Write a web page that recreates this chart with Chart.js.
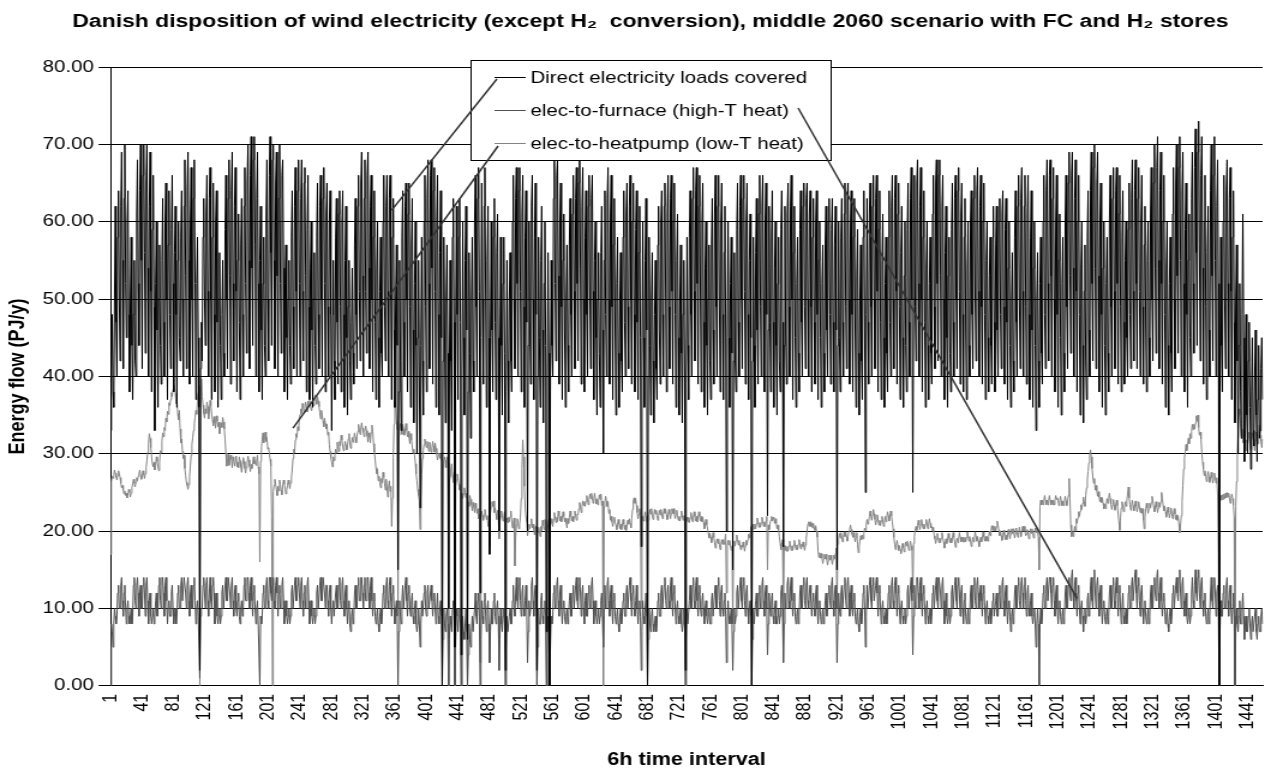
<!DOCTYPE html>
<html>
<head>
<meta charset="utf-8">
<title>Danish disposition of wind electricity</title>
<script src="https://cdn.jsdelivr.net/npm/chart.js@4.4.1/dist/chart.umd.min.js"></script>
<style>
  html, body { margin: 0; padding: 0; background: #fff; }
</style>
</head>
<body>
<!-- drawn on a narrower canvas and widened by css, like the original pasted sheet chart -->
<canvas id="chart" width="1054" height="773" style="width:1265px;height:773px;display:block"></canvas>
<script>
// 6h values over one year, PJ/y, one line per 40 intervals
const directLoads = [
  33,41,48,38, 36,50,62,47, 40,58,64,50, 42,62,69,55, 41,63,70,52, 45,60,64,48, 38,50,58,44, 37,48,55,42, 40,61,68,52, 44,64,70,55,
  41,66,70,56, 43,65,70,54, 40,62,69,51, 38,59,66,49, 33,52,60,46, 36,50,57,44, 39,55,63,47, 40,60,65,50, 37,57,64,48, 41,59,66,52,
  38,56,62,48, 36,55,60,45, 42,58,64,50, 40,62,68,53, 41,64,69,55, 39,60,67,50, 40,63,68,52, 37,52,58,45, 36,2,41,47, 42,58,63,50,
  44,61,66,51, 40,63,67,50, 37,58,65,48, 38,60,64,47, 36,50,56,44, 37,48,55,43, 40,59,66,50, 41,63,68,53, 39,64,69,52, 42,62,67,51,
  38,55,61,47, 37,57,63,48, 40,62,67,52, 43,65,70,55, 41,66,71,54, 44,68,71,57, 40,63,69,52, 38,55,62,46, 37,52,58,44, 40,61,68,50,
  42,66,71,56, 44,68,70,55, 41,65,69,53, 40,63,70,52, 43,66,68,54, 38,52,57,45, 37,50,55,44, 39,58,64,49, 41,62,67,51, 40,64,68,52,
  40,63,68,51, 42,65,67,53, 38,59,66,49, 37,54,60,46, 36,50,56,44, 39,58,65,48, 41,62,66,50, 40,63,67,52, 38,61,65,49, 40,60,64,48,
  33,48,55,42, 37,58,63,47, 39,61,64,49, 38,60,64,48, 36,55,62,45, 35,49,55,42, 37,47,54,43, 39,57,63,48, 41,62,66,51, 42,65,69,53,
  40,63,68,51, 43,66,69,54, 41,62,66,50, 38,58,64,47, 37,54,60,45, 36,51,58,43, 40,60,66,49, 42,62,66,51, 40,63,66,50, 37,58,63,46,
  36,50,57,44, 15,38,55,42, 33,58,64,47, 40,62,65,50, 38,61,65,49, 36,57,63,46, 34,52,60,44, 30,45,55,40, 23,44,58,42, 35,60,66,49,
  38,63,68,52, 41,66,68,54, 39,64,67,51, 36,60,66,48, 35,56,64,45, 0,42,58,46, 34,50,57,43, 10,40,55,42, 33,58,63,47, 5,45,62,48,
  37,58,63,47, 4,40,60,45, 35,55,62,46, 6,38,56,43, 32,50,58,42, 38,60,66,49, 40,63,67,51, 12,45,65,50, 39,62,67,50, 36,55,62,45,
  17,45,60,46, 38,58,63,47, 37,56,61,45, 20,42,58,44, 35,52,58,43, 2,38,55,42, 34,50,56,42, 38,60,66,50, 41,63,67,52, 40,64,67,51,
  38,61,66,49, 36,58,64,47, 20,44,60,46, 39,62,66,50, 37,58,65,48, 2,40,58,45, 36,55,62,46, 34,52,60,44, 7,40,56,43, 0,38,55,44,
  40,63,68,52, 42,66,68,53, 39,60,65,49, 37,55,61,46, 36,50,57,44, 38,57,63,48, 40,61,66,51, 41,63,67,52, 42,65,68,54, 39,62,67,50,
  38,58,64,48, 40,62,66,50, 41,63,66,51, 37,55,60,45, 35,50,56,43, 36,56,62,46, 30,55,64,48, 40,63,67,50, 39,61,66,49, 37,57,63,46,
  35,52,58,43, 36,50,56,42, 38,58,64,47, 40,61,65,49, 41,62,66,50, 39,60,65,48, 38,59,64,47, 37,56,62,45, 18,42,60,45, 36,55,63,46,
  0,40,58,44, 35,50,56,42, 34,48,55,41, 37,57,62,46, 39,60,64,48, 40,62,65,50, 38,61,66,49, 41,63,66,51, 39,60,65,48, 36,55,61,45,
  35,50,57,43, 34,48,55,40, 2,40,58,44, 37,58,64,48, 40,63,67,51, 42,64,67,52, 39,62,66,50, 38,60,65,47, 36,54,60,44, 35,50,57,42,
  37,57,63,46, 39,61,66,49, 40,62,66,50, 38,60,65,48, 37,56,62,46, 20,45,60,45, 36,52,58,43, 15,42,56,42, 38,59,65,47, 40,62,66,50,
  41,63,66,51, 39,60,65,48, 37,55,61,45, 0,42,58,44, 36,56,63,46, 39,61,66,49, 40,62,66,50, 38,60,65,48, 22,46,62,47, 38,58,64,47,
  36,54,60,44, 35,52,58,42, 38,59,64,47, 18,44,62,46, 39,61,65,49, 40,62,66,50, 37,56,62,45, 36,52,58,43, 38,59,64,47, 40,62,65,49,
  41,63,65,50, 40,61,64,49, 38,58,63,47, 39,60,64,48, 37,55,60,45, 36,52,57,43, 38,57,62,46, 40,60,63,48, 39,59,63,47, 38,57,62,46,
  15,44,60,45, 38,58,63,47, 40,61,65,49, 41,63,65,50, 39,60,64,48, 38,58,63,46, 36,53,59,43, 35,50,57,42, 37,58,64,46, 25,48,63,47,
  39,61,65,49, 40,62,66,50, 41,63,66,51, 38,59,64,47, 37,55,61,45, 36,52,58,43, 38,58,64,47, 40,62,66,50, 41,63,66,51, 39,61,65,49,
  37,56,62,45, 36,53,60,44, 38,59,65,47, 40,63,67,50, 25,50,66,49, 42,65,68,52, 40,62,67,50, 38,58,64,47, 36,54,60,44, 37,52,58,43,
  39,61,66,49, 41,65,68,52, 42,66,68,53, 40,62,66,50, 37,56,62,45, 36,53,58,43, 38,59,65,47, 40,63,66,50, 41,64,67,51, 39,61,65,48,
  38,58,63,46, 37,54,60,44, 40,60,64,48, 41,63,66,50, 42,64,67,51, 40,62,66,49, 39,60,65,48, 37,55,60,45, 38,53,58,44, 39,58,62,47,
  38,57,62,46, 40,60,63,48, 41,61,64,49, 39,59,63,47, 37,54,60,44, 36,50,56,42, 38,58,64,47, 40,62,66,50, 41,63,67,51, 40,62,66,49,
  39,61,66,48, 37,58,64,46, 36,54,60,44, 33,50,56,42, 36,52,58,43, 39,60,66,48, 41,64,68,52, 42,66,68,53, 40,63,67,50, 38,60,66,48,
  36,55,61,45, 35,52,58,43, 38,60,66,49, 41,65,69,53, 43,66,69,54, 40,63,68,51, 38,60,66,48, 35,54,60,44, 34,51,57,42, 37,58,64,46,
  40,64,69,52, 42,67,70,54, 41,65,69,53, 38,60,65,48, 36,54,60,44, 35,52,58,43, 38,60,66,49, 40,63,67,51, 41,64,67,52, 39,61,66,49,
  38,58,64,47, 39,55,60,45, 40,59,65,48, 41,63,68,51, 42,64,68,52, 41,63,67,51, 40,60,66,49, 39,57,62,46, 38,55,60,45, 40,61,67,50,
  42,65,70,54, 43,67,71,55, 41,64,69,52, 39,60,66,48, 36,54,60,44, 35,52,58,43, 38,61,67,50, 41,65,70,53, 43,67,71,55, 40,64,69,52,
  38,59,65,48, 36,55,61,45, 40,63,69,52, 43,67,72,56, 44,69,73,57, 42,66,71,54, 39,60,66,49, 37,56,62,46, 40,64,70,53, 42,66,71,55,
  40,62,68,52, 0,38,58,44, 38,60,66,50, 41,64,68,52, 40,63,67,51, 37,58,64,47, 34,50,57,42, 30,44,52,38, 32,48,61,45, 29,40,48,35,
  30,42,47,36, 28,38,45,33, 31,40,46,35, 29,37,44,32, 33,41,45,37
];

const elecToFurnace = [
  0,8,7,5, 8,10,9,8, 9,12,13,10, 10,13,14,11, 9,12,13,10, 8,10,11,9, 8,9,10,8, 9,13,14,11, 10,13,14,12, 9,12,13,10,
  10,13,14,12, 9,13,14,11, 8,11,12,9, 8,9,10,8, 9,11,12,9, 10,13,14,11, 10,14,14,12, 9,13,14,11, 8,10,11,9, 9,12,13,10,
  8,9,10,8, 9,12,13,10, 10,13,14,11, 11,14,14,12, 10,13,14,11, 9,12,13,10, 10,13,14,11, 8,10,11,9, 9,1,9,10, 10,13,14,12,
  10,13,14,11, 9,12,14,11, 10,13,14,12, 8,11,12,9, 8,9,10,8, 9,12,13,10, 10,13,14,11, 11,14,14,12, 10,13,14,11, 9,12,13,10,
  9,11,12,9, 8,10,11,9, 10,13,14,11, 11,14,14,12, 10,13,14,11, 9,12,13,10, 8,10,11,8, 8,0,9,8, 9,12,13,10, 10,13,14,11,
  10,14,14,12, 11,13,14,11, 10,13,14,12, 9,12,13,10, 10,13,14,11, 8,10,11,9, 8,9,10,8, 9,12,13,10, 10,13,14,11, 11,13,14,12,
  10,13,14,11, 9,12,13,10, 10,13,14,11, 8,10,11,9, 8,9,10,8, 9,12,13,10, 10,13,14,11, 11,14,14,12, 10,13,13,11, 9,12,13,10,
  8,10,11,9, 9,12,13,10, 10,13,14,11, 10,13,14,11, 9,12,13,10, 8,10,11,8, 7,9,10,8, 9,12,13,10, 10,13,14,11, 11,14,14,12,
  10,13,14,11, 11,14,14,12, 10,13,14,11, 9,11,12,9, 8,9,10,8, 7,9,10,8, 9,12,13,10, 10,13,14,11, 10,13,14,11, 9,12,13,10,
  8,10,11,9, 0,7,11,9, 8,11,13,10, 10,13,14,11, 9,12,13,10, 9,11,12,9, 8,10,11,8, 7,8,10,8, 5,8,11,9, 9,12,13,10,
  9,12,13,10, 10,12,13,11, 9,11,12,10, 8,10,12,9, 8,10,11,9, 0,6,10,8, 7,9,10,8, 0,6,9,8, 7,10,11,9, 0,6,10,9,
  7,9,10,8, 0,5,9,7, 6,8,10,7, 0,4,8,6, 5,7,9,7, 7,10,12,9, 8,11,12,9, 0,6,11,9, 8,11,12,9, 7,10,11,8,
  3,7,10,8, 8,11,12,9, 8,10,11,9, 2,6,10,8, 7,9,10,8, 0,5,9,7, 7,9,10,8, 8,11,13,10, 9,12,14,11, 10,13,14,11,
  9,12,13,10, 9,11,13,10, 3,7,11,9, 10,13,14,11, 9,12,13,10, 0,5,10,8, 8,11,12,9, 8,10,11,9, 0,4,9,8, 0,5,9,8,
  9,12,13,10, 10,13,14,11, 9,12,13,10, 8,10,11,9, 8,9,10,8, 9,11,12,9, 9,12,13,10, 10,13,14,11, 10,13,14,12, 9,12,13,10,
  8,11,12,9, 9,12,13,10, 10,13,14,11, 8,10,11,9, 8,9,10,8, 9,11,12,9, 5,10,13,10, 10,13,14,11, 9,12,13,10, 8,11,12,9,
  8,9,10,8, 7,9,10,8, 9,11,12,9, 9,12,13,10, 10,13,14,11, 9,12,13,10, 9,11,13,10, 8,10,11,9, 2,7,11,9, 8,10,12,9,
  0,6,10,8, 7,9,10,8, 7,8,9,7, 8,11,12,9, 9,12,13,10, 10,13,14,11, 10,12,13,11, 10,13,14,11, 9,12,13,10, 8,10,11,9,
  8,9,10,8, 7,8,10,8, 0,6,10,8, 8,11,13,10, 10,13,14,11, 10,13,14,11, 9,12,13,10, 9,11,12,10, 8,10,11,9, 8,9,10,8,
  8,11,12,9, 9,12,13,10, 10,13,14,11, 9,12,13,10, 9,11,12,9, 3,8,11,9, 8,9,10,8, 2,7,10,8, 9,12,13,10, 10,13,14,11,
  10,13,14,11, 9,12,13,10, 8,10,11,9, 0,6,10,8, 8,11,12,9, 9,12,13,10, 10,13,14,11, 9,12,13,10, 4,8,12,10, 9,11,12,9,
  8,10,11,8, 8,9,10,8, 9,12,13,10, 3,8,12,10, 10,13,14,11, 10,13,14,11, 9,11,12,9, 8,9,10,8, 9,12,13,10, 10,13,14,11,
  10,13,14,11, 10,12,13,11, 9,11,12,10, 9,12,13,10, 8,10,11,9, 8,9,10,8, 9,11,12,9, 10,12,13,11, 10,13,14,11, 9,12,13,10,
  3,8,12,10, 9,12,13,10, 10,13,14,11, 10,13,14,12, 9,12,13,10, 9,11,12,9, 8,9,10,8, 7,9,10,8, 9,12,13,10, 5,9,13,10,
  10,13,14,11, 10,13,14,11, 11,13,14,12, 9,12,13,10, 8,10,11,9, 8,9,10,8, 9,12,13,10, 10,13,14,11, 10,13,14,12, 9,12,13,10,
  8,10,11,9, 8,9,10,8, 9,12,13,10, 10,13,14,11, 4,9,13,10, 10,14,14,12, 10,13,14,11, 9,12,13,10, 8,10,11,9, 8,9,10,8,
  9,12,13,10, 10,13,14,11, 10,14,14,12, 10,13,14,11, 8,10,12,9, 8,9,10,8, 9,12,13,10, 10,13,14,11, 10,13,14,12, 9,12,13,10,
  8,11,12,9, 8,9,10,8, 9,12,13,10, 10,13,14,11, 10,13,14,12, 10,12,13,11, 9,12,13,10, 8,10,11,9, 8,9,10,8, 9,11,12,9,
  9,11,12,9, 9,12,13,10, 10,13,14,11, 9,12,13,10, 8,10,11,9, 7,9,10,8, 9,12,13,10, 10,13,14,11, 10,13,14,12, 10,13,14,11,
  9,12,13,10, 9,11,12,9, 8,9,10,8, 5,8,10,8, 0,8,10,8, 9,12,13,10, 10,13,14,11, 11,14,14,12, 10,13,14,11, 9,12,13,10,
  8,10,11,9, 8,9,10,8, 9,12,13,10, 10,13,14,12, 11,14,15,12, 10,13,14,11, 9,12,13,10, 8,10,11,9, 7,9,10,8, 9,11,12,9,
  10,13,14,11, 10,14,15,12, 10,13,14,12, 9,12,13,10, 8,10,11,9, 8,9,10,8, 9,12,13,10, 10,13,14,11, 10,13,14,12, 9,12,13,10,
  8,10,12,9, 8,9,10,8, 9,12,13,10, 10,13,14,11, 11,14,15,12, 10,13,14,11, 9,12,13,10, 8,10,11,9, 8,9,10,8, 9,12,13,10,
  10,13,14,12, 11,14,15,12, 10,13,14,11, 9,11,12,10, 8,9,10,8, 7,9,10,8, 9,12,13,10, 10,13,14,12, 11,14,15,12, 10,13,14,11,
  9,11,12,9, 8,9,10,8, 9,12,14,11, 10,13,15,12, 11,14,15,12, 10,13,14,11, 9,11,12,9, 8,9,10,8, 9,12,14,11, 10,13,14,12,
  9,12,13,10, 0,7,11,9, 9,12,13,10, 10,13,14,11, 9,12,13,10, 8,10,12,9, 0,7,10,8, 7,9,11,8, 8,10,12,9, 6,8,9,7,
  7,9,10,8, 6,8,9,7, 7,9,10,7, 6,8,9,7, 7,9,10,8
];

const elecToHeatpump = [
  17.0,26.4,27.1,26.8, 27.3,27.9,27.5,27.0, 26.6,27.2,27.8,27.4, 26.9,26.2,25.6,25.9, 25.3,24.8,25.2,24.6, 24.9,24.3,24.8,25.4, 25.0,24.4,24.9,25.6, 26.1,26.7,26.2,25.7, 26.3,26.9,26.5,27.1, 27.4,27.9,27.2,26.7,
  27.2,27.8,27.3,26.8, 27.4,28.2,29.1,30.2, 31.3,32.6,32.0,30.8, 29.6,28.7,28.3,28.9, 27.9,28.5,29.6,29.0, 28.3,27.8,28.9,30.4, 30.1,31.6,32.7,32.2, 33.4,33.0,34.6,34.1, 35.5,35.1,36.6,36.2, 37.0,37.9,37.4,38.3,
  38.9,38.4,37.8,36.5, 36.9,35.2,34.4,35.6, 33.2,31.4,31.9,30.3, 29.4,29.8,28.1,27.2, 26.3,25.9,25.4,26.0, 27.1,28.4,29.8,31.2, 32.1,33.0,33.9,34.7, 35.6,35.1,36.8,37.9, 38.8,0,38.2,39.7, 37.4,36.3,35.2,34.6,
  35.8,35.2,36.7,36.1, 34.5,35.3,36.9,36.2, 35.1,34.4,33.6,34.8, 34.0,33.3,34.9,34.2, 33.5,34.1,32.6,33.3, 34.0,33.4,34.7,34.1, 33.2,31.8,30.1,28.4, 29.0,29.9,28.5,29.2, 29.8,29.3,28.2,29.6, 29.1,28.4,29.0,29.7,
  28.3,28.9,28.2,29.6, 29.1,28.3,27.6,28.8, 29.5,29.0,28.1,27.5, 28.2,28.8,29.7,29.2, 28.4,27.7,28.6,28.1, 28.9,29.6,28.7,29.1, 28.5,29.2,29.8,28.3, 27.4,16.0,29.0,30.8, 31.9,32.7,31.4,32.2, 32.8,31.6,32.1,30.6,
  30.8,30.1,29.3,28.4, 22.0,0,25.1,25.9, 26.7,26.1,25.3,24.6, 25.8,25.2,26.6,26.0, 25.3,24.7,25.8,26.6, 26.1,25.4,24.8,25.3, 25.9,26.6,26.1,25.5, 26.2,27.0,27.9,29.4, 30.6,30.1,31.8,32.6, 32.1,33.5,33.0,34.6,
  35.1,35.8,35.2,36.5, 36.0,35.3,35.9,36.7, 36.1,35.4,36.8,36.2, 36.9,36.3,35.6,36.0, 36.8,36.2,37.1,37.6, 37.0,36.4,37.4,36.8, 36.1,35.3,34.5,35.6, 35.0,34.2,33.5,34.6, 33.9,33.2,33.8,32.4, 32.8,31.2,30.3,29.4,
  28.9,28.3,29.6,29.1, 29.8,30.6,30.1,31.5, 30.9,30.3,31.6,31.0, 32.4,31.8,31.0,30.4, 30.9,31.6,31.1,30.5, 31.1,31.9,32.6,31.4, 30.7,31.3,32.1,31.5, 32.0,32.7,32.1,31.4, 32.2,32.9,33.8,33.1, 32.5,33.2,34.0,33.3,
  32.8,32.2,32.9,33.6, 33.0,32.3,31.5,32.7, 32.1,31.4,32.8,33.7, 32.9,31.3,30.2,29.3, 28.2,27.4,28.0,26.5, 27.1,26.3,25.6,26.8, 26.2,27.6,27.0,26.1, 25.3,26.7,25.8,24.4, 25.7,26.5,25.1,25.8, 20.6,24.3,29.5,33.8,
  36.8,35.9,34.2,33.1, 10.0,32.4,33.2,33.9, 33.3,32.5,33.8,33.2, 32.4,33.1,33.9,33.0, 32.2,32.9,32.1,31.3, 32.6,31.8,31.0,30.1, 30.6,29.8,28.7,27.4, 26.5,25.4,24.6,24.0, 20.2,24.1,27.3,29.4, 30.4,31.2,31.9,31.2,
  30.8,31.6,31.0,30.3, 31.5,30.9,30.2,30.8, 31.6,31.0,30.2,31.4, 30.7,29.9,29.2,29.8, 30.1,29.4,29.9,29.1, 0,28.3,28.9,29.6, 29.1,28.2,29.6,28.8, 0,26.4,27.1,27.9, 28.7,27.2,26.3,27.6, 0,25.8,26.6,27.4,
  26.8,26.1,25.3,25.8, 0,24.9,24.2,24.8, 25.6,25.0,24.3,24.9, 0,23.8,23.2,24.6, 24.1,23.4,22.6,23.7, 23.1,22.4,23.6,23.0, 22.3,22.9,21.6,22.2, 3.0,21.8,22.6,22.0, 21.4,22.1,22.8,22.2, 21.5,22.0,20.6,21.3,
  18.0,22.3,23.1,23.8, 23.2,23.9,22.4,23.0, 22.2,21.5,22.7,22.0, 19.0,21.2,21.9,22.6, 22.0,21.3,21.8,22.5, 0,21.0,21.7,21.1, 21.8,21.2,21.9,22.6, 21.3,20.4,21.0,21.7, 15.5,19.2,20.8,21.6, 21.0,20.3,20.9,21.8,
  24.2,28.1,31.8,29.6, 25.8,23.1,21.9,21.2, 19.4,20.2,20.9,20.3, 20.8,21.6,20.4,20.9, 20.2,19.5,20.6,20.0, 0,19.8,20.5,20.1, 19.3,20.6,20.0,21.4, 20.8,20.2,21.5,20.9, 0,20.1,20.8,21.5, 0,20.7,21.6,21.0,
  20.6,21.5,22.4,21.8, 21.1,21.8,21.2,22.6, 22.0,21.3,21.9,21.2, 21.8,22.5,21.9,21.2, 21.7,21.0,20.4,21.6, 21.0,21.8,22.6,22.0, 21.3,21.9,21.2,21.8, 22.6,22.0,21.4,22.2, 22.1,22.9,23.7,23.1, 22.4,23.2,23.9,23.3,
  23.8,23.2,23.9,24.6, 24.0,23.4,24.1,24.8, 24.2,24.9,24.3,23.6, 24.2,24.9,24.2,23.5, 24.1,23.4,24.0,24.7, 24.1,24.8,23.3,23.9, 0,23.1,23.8,24.5, 23.9,23.2,23.8,22.3, 22.8,21.4,21.9,21.2, 20.6,21.2,21.8,21.1,
  20.8,20.2,20.9,21.5, 20.9,20.3,20.9,20.2, 20.8,21.5,20.9,20.2, 20.8,20.1,20.7,21.4, 20.9,21.6,21.0,20.4, 21.6,22.8,23.9,24.3, 23.6,24.2,23.3,22.4, 21.6,22.2,22.9,22.1, 10.0,21.2,21.9,21.3, 21.8,22.5,21.9,21.2,
  0,21.4,22.1,22.8, 22.2,22.9,22.1,21.5, 22.1,22.8,22.2,22.7, 22.0,21.4,22.0,22.7, 22.1,22.8,22.2,21.6, 22.2,22.9,22.3,22.8, 22.1,21.5,22.1,22.8, 22.2,21.6,22.2,22.9, 22.3,22.9,22.2,21.6, 22.1,22.7,22.0,21.4,
  21.9,21.3,21.9,22.6, 22.0,21.4,22.0,21.4, 0,21.2,21.8,21.2, 21.8,21.1,21.7,22.4, 21.8,21.2,21.8,22.5, 21.9,21.3,21.9,21.2, 21.8,22.5,21.9,21.3, 21.9,21.2,21.8,21.1, 20.3,20.9,21.5,20.8, 20.4,19.7,19.1,19.7,
  19.2,18.5,19.1,19.8, 19.2,18.5,17.8,18.4, 19.0,18.4,19.0,18.3, 17.6,18.2,18.9,18.3, 18.9,18.3,18.9,19.6, 12.0,18.2,18.8,18.2, 18.8,18.1,17.5,18.1, 8.0,18.0,18.7,18.1, 18.8,19.5,18.9,18.2, 18.8,18.2,17.6,18.2,
  17.9,18.6,18.0,17.4, 18.1,18.8,18.2,18.9, 19.6,19.1,19.8,20.6, 0,20.2,20.9,20.3, 20.9,20.3,21.0,21.7, 21.1,20.5,21.1,20.5, 21.1,21.8,21.2,20.6, 21.2,20.6,21.3,21.9, 15.0,20.8,20.2,20.9, 21.4,21.9,21.3,21.8,
  21.6,21.0,21.6,21.0, 20.3,20.8,20.1,19.3, 18.4,17.6,18.2,18.9, 10.0,18.1,17.5,18.1, 17.4,18.0,17.4,18.1, 18.7,18.1,17.5,18.1, 17.5,18.2,18.8,18.2, 17.6,18.2,17.6,18.3, 18.9,18.3,17.7,18.3, 18.0,18.6,18.0,17.5,
  18.2,19.1,20.0,20.9, 21.2,20.6,21.2,20.6, 21.0,20.4,21.0,20.4, 20.1,20.7,20.0,19.2, 17.4,16.6,17.2,16.5, 17.1,16.5,15.8,16.4, 17.0,16.4,17.0,16.3, 15.6,16.2,16.9,16.3, 16.9,16.3,15.7,16.3, 16.9,16.4,17.1,17.8,
  10.0,18.3,19.0,19.7, 19.1,19.8,19.2,18.6, 19.2,19.9,19.3,19.9, 19.3,18.7,19.3,20.0, 20.2,20.8,20.2,19.6, 19.2,19.8,19.2,18.6, 19.2,19.8,18.3,17.2, 18.0,18.7,19.4,18.9, 19.5,19.0,19.7,20.4, 20.1,20.8,21.5,20.9,
  21.2,21.9,22.6,22.0, 21.4,22.1,22.8,22.2, 21.5,20.8,21.4,22.1, 21.4,20.8,21.4,20.7, 21.3,21.9,21.3,20.6, 21.2,21.9,21.2,21.8, 22.5,22.0,21.3,21.9, 22.6,22.0,21.2,20.3, 19.2,18.3,17.6,18.2, 18.8,18.2,17.5,18.1,
  17.6,17.1,17.7,18.4, 17.9,17.3,17.9,18.6, 18.1,18.7,18.1,17.5, 18.1,18.7,18.1,17.5, 12.0,18.4,19.3,20.1, 20.6,20.1,20.7,21.4, 20.8,20.2,20.8,21.5, 20.9,20.3,20.9,20.3, 20.9,21.5,20.9,20.3, 20.9,21.6,21.0,20.4,
  20.6,20.0,20.5,19.4, 19.0,18.4,19.0,19.7, 19.1,18.5,19.1,18.5, 19.1,19.8,19.2,18.6, 17.8,18.4,19.0,18.4, 19.0,19.7,19.1,18.5, 19.1,18.5,19.1,19.8, 19.2,18.6,17.9,18.5, 19.1,18.5,19.1,19.8, 19.2,18.6,19.2,18.6,
  19.2,18.6,19.2,18.6, 19.2,19.9,19.3,18.7, 19.3,18.7,18.0,18.6, 19.2,18.6,19.2,19.9, 19.3,18.7,19.3,18.7, 18.0,18.6,19.2,18.6, 19.2,19.9,19.3,18.7, 19.3,18.7,19.3,18.7, 19.3,20.0,19.4,20.1, 20.7,20.1,20.7,20.1,
  20.6,20.0,20.6,21.3, 20.7,20.1,19.4,20.0, 19.4,18.8,19.4,20.1, 19.5,18.9,19.5,18.9, 19.5,20.2,19.6,19.0, 19.6,20.3,19.7,20.3, 19.7,19.1,19.7,20.4, 19.8,19.2,19.8,20.5, 19.9,19.3,19.9,20.6, 20.0,20.6,20.0,19.4,
  19.6,20.2,19.6,19.0, 19.6,20.3,19.7,20.3, 19.7,19.1,19.7,20.4, 19.8,20.4,19.8,19.2, 15.0,23.2,24.0,23.4, 24.0,23.4,24.0,24.6, 24.0,23.4,24.0,23.4, 24.0,24.6,24.0,23.4, 24.0,23.4,24.0,23.4, 24.0,24.6,24.1,24.3,
  23.9,23.3,23.9,24.5, 23.9,23.3,23.9,23.3, 23.9,24.5,23.9,23.3, 23.9,24.6,26.8,24.2, 20.8,19.3,19.9,19.3, 19.9,20.6,20.0,21.6, 21.0,21.7,22.5,21.9, 22.6,23.4,22.8,23.6, 24.4,23.8,23.2,24.6, 25.6,26.6,27.7,28.8,
  29.8,30.5,29.6,28.1, 27.0,26.2,26.8,25.3, 25.9,25.2,24.5,25.1, 24.4,23.8,24.4,23.7, 24.3,23.6,22.9,23.5, 22.9,23.5,24.2,23.6, 24.2,24.9,24.2,23.5, 22.8,23.4,24.1,23.4, 22.7,23.3,24.0,23.3, 22.2,21.2,20.1,21.8,
  23.0,23.8,23.2,22.5, 23.1,23.8,23.2,23.9, 24.8,25.7,24.3,23.4, 22.7,23.3,24.0,23.3, 22.6,23.2,23.9,23.2, 22.5,23.1,23.8,23.1, 22.4,23.0,22.3,22.9, 21.4,20.3,21.8,22.9, 23.6,23.0,22.3,22.9, 23.6,23.0,23.7,24.5,
  23.9,23.2,22.5,23.1, 23.8,23.1,22.4,23.0, 23.7,23.1,23.8,25.0, 24.2,23.3,22.6,23.2, 22.5,21.8,22.4,23.1, 22.4,21.7,22.3,23.0, 22.3,21.6,22.2,22.9, 22.2,21.5,22.1,21.4, 21.9,20.9,19.8,20.8, 22.0,23.8,25.9,28.0,
  29.4,30.3,31.2,30.4, 31.2,32.0,31.3,32.6, 32.0,32.9,33.8,33.1, 33.8,33.2,34.0,34.9, 34.2,35.0,33.4,32.4, 32.8,31.9,30.1,28.9, 28.0,27.2,27.8,27.1, 26.4,27.0,27.7,27.0, 26.3,26.9,27.6,26.9, 26.2,26.8,27.5,26.8,
  26.2,26.9,24.8,17.0, 0,23.9,24.6,24.0, 24.7,24.1,24.8,24.2, 24.9,24.3,25.0,24.4, 24.9,24.3,23.6,24.2, 24.8,24.2,23.4,21.8, 0,23.2,26.4,30.2, 33.4,35.8,35.0,33.9, 32.3,33.2,31.4,32.1, 33.0,31.2,30.4,31.8,
  31.2,32.1,32.8,31.3, 30.5,31.6,32.7,32.0, 31.2,30.4,31.7,32.8, 32.1,31.3,32.6,33.7, 32.4,31.6,30.8,31.9
];

// interval numbers 1..n, only every 40th is printed on the axis
const intervals = directLoads.map((v, i) => String(i + 1));
const labelEvery = 40;

const chartTitle = 'Danish disposition of wind electricity (except H\u2082  conversion), middle 2060 scenario with FC and H\u2082 stores';
const seriesNames = [
  'Direct electricity loads covered',
  'elec-to-furnace (high-T heat)',
  'elec-to-heatpump (low-T heat)'
];
const seriesColors = ['#000000', '#505050', '#848484'];

// where each legend entry points to, in axis units (interval, PJ/y)
const pointerTargets = [
  { interval: 357, value: 61.5 },
  { interval: 1225, value: 11.3 },
  { interval: 232, value: 33.3 }
];

const FONT = "'Liberation Sans', Arial, sans-serif";
Chart.defaults.font.family = FONT;
Chart.defaults.color = '#000';

// title sits a little right of centre, so it is drawn here rather than by the title plugin
const sheetTitle = {
  id: 'sheetTitle',
  afterDraw(chart) {
    const { ctx } = chart;
    ctx.save();
    ctx.font = 'bold 19.1px ' + FONT;
    ctx.fillStyle = '#000';
    ctx.textAlign = 'center';
    ctx.textBaseline = 'middle';
    ctx.fillText(chartTitle, 542, 22);
    ctx.restore();
  }
};

// boxed legend sitting over the plot, with a pointer line from each entry
const boxedLegend = {
  id: 'boxedLegend',
  afterDraw(chart) {
    const { ctx, scales: { x, y } } = chart;
    const box = { left: 392, top: 60, width: 300, height: 100 };
    const rowY = [77, 110, 143];

    ctx.save();
    ctx.fillStyle = '#fff';
    ctx.fillRect(box.left, box.top, box.width, box.height);
    ctx.strokeStyle = '#000';
    ctx.lineWidth = 1;
    ctx.strokeRect(box.left + 0.5, box.top + 0.5, box.width, box.height);

    ctx.font = '17px ' + FONT;
    ctx.textBaseline = 'middle';
    ctx.textAlign = 'left';
    seriesNames.forEach((name, i) => {
      ctx.strokeStyle = seriesColors[i];
      ctx.lineWidth = 1;
      ctx.beginPath();
      ctx.moveTo(412, rowY[i] + 0.5);
      ctx.lineTo(438, rowY[i] + 0.5);
      ctx.stroke();
      ctx.fillStyle = '#000';
      ctx.fillText(name, 442, rowY[i] + 1);
    });

    // pointers: two leave from the left of the sample line, one from the end of the text
    const starts = [
      { px: 414, py: 79 },
      { px: 665, py: 108 },
      { px: 415, py: 146 }
    ];
    ctx.strokeStyle = '#333';
    ctx.lineWidth = 1.5;
    pointerTargets.forEach((t, i) => {
      const tx = x.getPixelForValue(t.interval - 1);
      const ty = y.getPixelForValue(t.value);
      ctx.beginPath();
      ctx.moveTo(starts[i].px, starts[i].py);
      ctx.lineTo(tx, ty);
      ctx.stroke();
    });
    ctx.restore();
  }
};

const lineStyle = (i) => ({
  label: seriesNames[i],
  borderColor: seriesColors[i],
  backgroundColor: seriesColors[i],
  borderWidth: 1,
  pointRadius: 0,
  tension: 0,
  fill: false
});

new Chart(document.getElementById('chart'), {
  type: 'line',
  data: {
    labels: intervals,
    datasets: [
      { ...lineStyle(0), data: directLoads },
      { ...lineStyle(1), data: elecToFurnace },
      { ...lineStyle(2), data: elecToHeatpump }
    ]
  },
  options: {
    responsive: false,
    animation: false,
    devicePixelRatio: 1,
    layout: { padding: { left: 4, right: 2, top: 67, bottom: 2 } },
    plugins: {
      legend: { display: false },
      tooltip: { enabled: false },
      title: { display: false }
    },
    scales: {
      x: {
        grid: { display: false, drawTicks: false },
        border: { display: true, color: '#000' },
        ticks: {
          autoSkip: false,
          maxRotation: 90,
          minRotation: 90,
          padding: 8,
          font: { size: 16 },
          callback: (val, index) => (index % labelEvery === 0 ? intervals[index] : null)
        },
        title: {
          display: true,
          text: '6h time interval',
          font: { size: 18, weight: 'bold' },
          padding: { top: 12, bottom: 0 }
        },
        // let the plot run to the right edge, no room kept for the last label
        afterFit: (scale) => { scale.paddingRight = 0; }
      },
      y: {
        min: 0,
        max: 80,
        ticks: {
          stepSize: 10,
          padding: 4,
          font: { size: 17 },
          callback: (v) => v.toFixed(2)
        },
        grid: { color: '#000', lineWidth: 1, tickLength: 10 },
        border: { color: '#000' },
        title: {
          display: true,
          text: 'Energy flow (PJ/y)',
          font: { size: 18, weight: 'bold' },
          padding: { top: 0, bottom: 6 }
        }
      }
    }
  },
  plugins: [sheetTitle, boxedLegend]
});
</script>
</body>
</html>
